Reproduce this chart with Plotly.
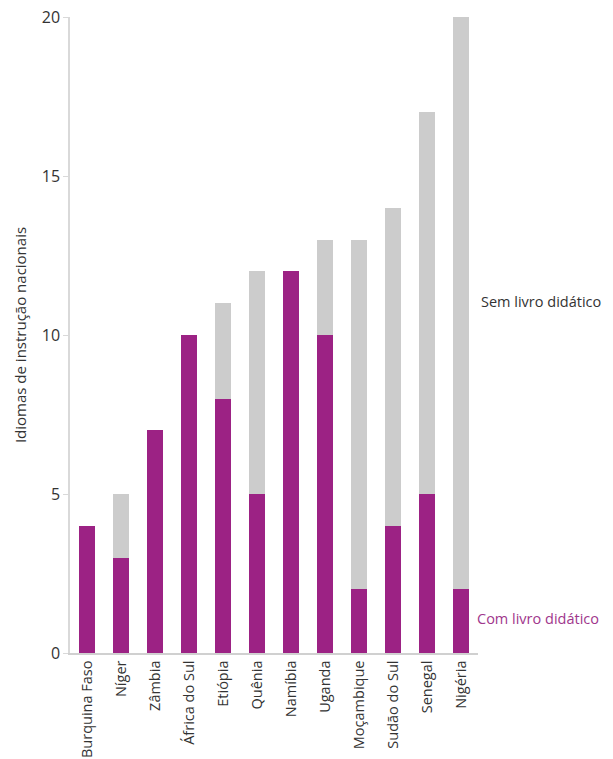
import plotly.graph_objects as go

paises = ["Burquina Faso", "Níger", "Zâmbia", "África do Sul", "Etiópia", "Quênia",
          "Namíbia", "Uganda", "Moçambique", "Sudão do Sul", "Senegal", "Nigéria"]
com_livro = [4, 3, 7, 10, 8, 5, 12, 10, 2, 4, 5, 2]
sem_livro = [0, 2, 0, 0, 3, 7, 0, 3, 11, 10, 12, 18]
y_ticks = [0, 5, 10, 15, 20]

roxo = "#9C2284"
cinza = "#CCCCCC"
fonte = "Open Sans"

fig = go.Figure()
fig.add_bar(x=paises, y=com_livro, name="Com livro didático", marker_color=roxo,
            marker_line_width=0)
fig.add_bar(x=paises, y=sem_livro, name="Sem livro didático", marker_color=cinza,
            marker_line_width=0)

fig.update_layout(
    barmode="stack",
    bargap=0.53,
    width=613, height=759,
    margin=dict(l=70, r=135, t=17, b=106, autoexpand=False),
    plot_bgcolor="white", paper_bgcolor="white",
    showlegend=False,
    font=dict(family=fonte, size=14, color="#333333"),
    xaxis=dict(
        tickangle=-90, showgrid=False, showline=True, linecolor="#D0D0D0",
        linewidth=1.5, ticks="", automargin=False,
        tickfont=dict(size=14.5, color="#333333"),
    ),
    yaxis=dict(
        range=[0, 20], tickvals=y_ticks, showgrid=False, zeroline=False,
        showline=True, linecolor="#D9D9D9", linewidth=1.5, automargin=False,
        ticks="outside", ticklen=5, tickcolor="#D9D9D9",
        tickfont=dict(size=16, color="#333333"),
        title=dict(text="Idiomas de instrução nacionais", font=dict(size=15, color="#333333"),
                   standoff=12),
    ),
    annotations=[
        dict(text="Sem livro didático", x=1.0, xref="paper", y=11.05, yref="y",
             xanchor="left", yanchor="middle", showarrow=False, xshift=1,
             font=dict(size=14.5, color="#333333", family=fonte)),
        dict(text="Com livro didático", x=1.0, xref="paper", y=1.07, yref="y",
             xanchor="left", yanchor="middle", showarrow=False, xshift=-3,
             font=dict(size=14.5, color="#A0368C", family=fonte)),
    ],
)

fig.write_html("out.html")
